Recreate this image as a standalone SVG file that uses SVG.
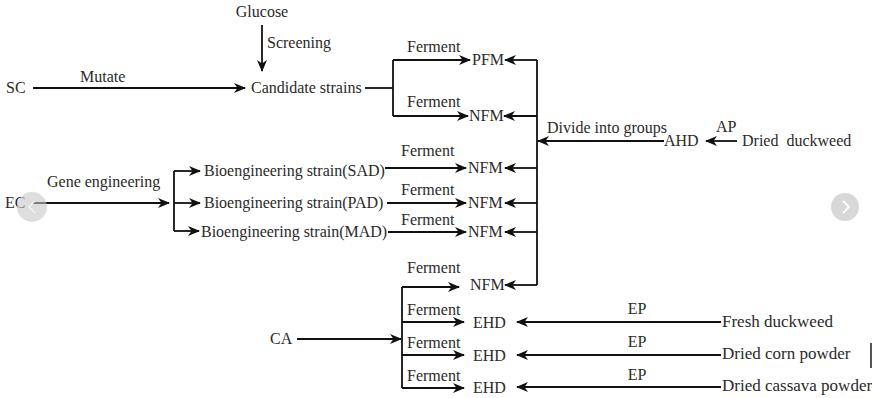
<svg xmlns="http://www.w3.org/2000/svg" width="872" height="398" viewBox="0 0 872 398">
<style>
text{font-family:"Liberation Serif","Times New Roman",serif;font-size:16px;fill:#2a2a2a;white-space:pre}
.big{font-size:17px}
.ln{stroke:#111;stroke-width:1.8;fill:none}
.ar{marker-end:url(#ah)}
</style>
<defs>
<marker id="ah" viewBox="0 0 12 10" refX="11" refY="5" markerWidth="12" markerHeight="10" markerUnits="userSpaceOnUse" orient="auto">
<path d="M0,0 L12,5 L0,10 L3.5,5 z" fill="#111"/>
</marker>
</defs>
<rect width="872" height="398" fill="#fff"/>

<g id="connectors">
<line class="ln ar" x1="262" y1="25" x2="262" y2="71"/>
<line class="ln ar" x1="33" y1="88" x2="245" y2="88"/>
<polyline class="ln" points="365,88 393,88"/>
<polyline class="ln" points="393,60 393,116"/>
<line class="ln ar" x1="393" y1="60" x2="470" y2="60"/>
<line class="ln ar" x1="393" y1="116" x2="468" y2="116"/>
<line class="ln" x1="537" y1="60" x2="537" y2="285"/>
<line class="ln ar" x1="537" y1="60" x2="505" y2="60"/>
<line class="ln ar" x1="537" y1="116" x2="504" y2="116"/>
<line class="ln ar" x1="664" y1="141" x2="538" y2="141"/>
<line class="ln ar" x1="737" y1="141" x2="706" y2="141"/>
<line class="ln ar" x1="33" y1="203" x2="169" y2="203"/>
<line class="ln" x1="174" y1="171" x2="174" y2="231"/>
<line class="ln ar" x1="174" y1="171" x2="200" y2="171"/>
<line class="ln ar" x1="174" y1="203" x2="200" y2="203"/>
<line class="ln ar" x1="174" y1="231" x2="199" y2="231"/>
<line class="ln ar" x1="385" y1="168" x2="466" y2="168"/>
<line class="ln ar" x1="387" y1="203" x2="466" y2="203"/>
<line class="ln ar" x1="388" y1="232" x2="466" y2="232"/>
<line class="ln ar" x1="537" y1="168" x2="505" y2="168"/>
<line class="ln ar" x1="537" y1="203" x2="505" y2="203"/>
<line class="ln ar" x1="537" y1="232" x2="505" y2="232"/>
<line class="ln ar" x1="537" y1="285" x2="505" y2="285"/>
<line class="ln" x1="402" y1="287" x2="402" y2="388"/>
<line class="ln ar" x1="402" y1="287" x2="459" y2="287"/>
<line class="ln ar" x1="297" y1="339" x2="401" y2="339"/>
<line class="ln ar" x1="402" y1="322" x2="464" y2="322"/>
<line class="ln ar" x1="402" y1="355" x2="464" y2="355"/>
<line class="ln ar" x1="402" y1="388" x2="464" y2="388"/>
<line class="ln ar" x1="721" y1="322" x2="517" y2="322"/>
<line class="ln ar" x1="721" y1="355" x2="517" y2="355"/>
<line class="ln ar" x1="721" y1="387" x2="517" y2="387"/>
</g>

<g id="labels">
<text x="267" y="48">Screening</text>
<text x="80" y="82">Mutate</text>
<text x="407" y="52">Ferment</text>
<text x="407" y="107">Ferment</text>
<text x="547" y="133">Divide into groups</text>
<text x="716" y="132">AP</text>
<text x="47" y="187">Gene engineering</text>
<text x="401" y="156">Ferment</text>
<text x="401" y="195">Ferment</text>
<text x="401" y="225">Ferment</text>
<text x="407" y="273">Ferment</text>
<text x="407" y="315">Ferment</text>
<text x="407" y="348">Ferment</text>
<text x="407" y="381">Ferment</text>
<text x="637" y="314" text-anchor="middle">EP</text>
<text x="637" y="347" text-anchor="middle">EP</text>
<text x="637" y="380" text-anchor="middle">EP</text>
</g>

<g id="glucose"><text x="262" y="17" text-anchor="middle">Glucose</text></g>
<g id="sc"><text x="6" y="93">SC</text></g>
<g id="candidate"><text x="251" y="93">Candidate strains</text></g>
<g id="pfm"><text x="472" y="65">PFM</text></g>
<g id="nfm1"><text x="469" y="121">NFM</text></g>
<g id="ahd"><text x="664" y="146">AHD</text></g>
<g id="dried-duckweed"><text x="742" y="146">Dried  duckweed</text></g>
<g id="ec"><text x="5" y="208">EC</text></g>
<g id="sad"><text x="204" y="176">Bioengineering strain(SAD)</text></g>
<g id="pad"><text x="204" y="208">Bioengineering strain(PAD)</text></g>
<g id="mad"><text x="201" y="237">Bioengineering strain(MAD)</text></g>
<g id="nfm2"><text x="468" y="173">NFM</text></g>
<g id="nfm3"><text x="468" y="208">NFM</text></g>
<g id="nfm4"><text x="468" y="237">NFM</text></g>
<g id="nfm5"><text x="470" y="290">NFM</text></g>
<g id="ca"><text x="270" y="344">CA</text></g>
<g id="ehd1"><text x="473" y="328">EHD</text></g>
<g id="ehd2"><text x="473" y="361">EHD</text></g>
<g id="ehd3"><text x="473" y="393">EHD</text></g>
<g id="fresh"><text class="big" x="722" y="327">Fresh duckweed</text></g>
<g id="corn"><text class="big" x="722" y="359">Dried corn powder</text></g>
<g id="cassava"><text class="big" x="722" y="391">Dried cassava powder</text></g>

<g id="overlay">
<circle cx="32" cy="207" r="15" fill="#c8c8c8" fill-opacity="0.6"/>
<path d="M35,201 L29,207 L35,213" fill="none" stroke="#fff" stroke-width="1.5" stroke-opacity="0.7"/>
<circle cx="845" cy="207" r="14" fill="#d8d8d8"/>
<path d="M843,201 L849,207 L843,213" fill="none" stroke="#fff" stroke-width="1.8"/>
<line x1="871" y1="343" x2="871" y2="368" stroke="#555" stroke-width="2"/>
</g>
</svg>
